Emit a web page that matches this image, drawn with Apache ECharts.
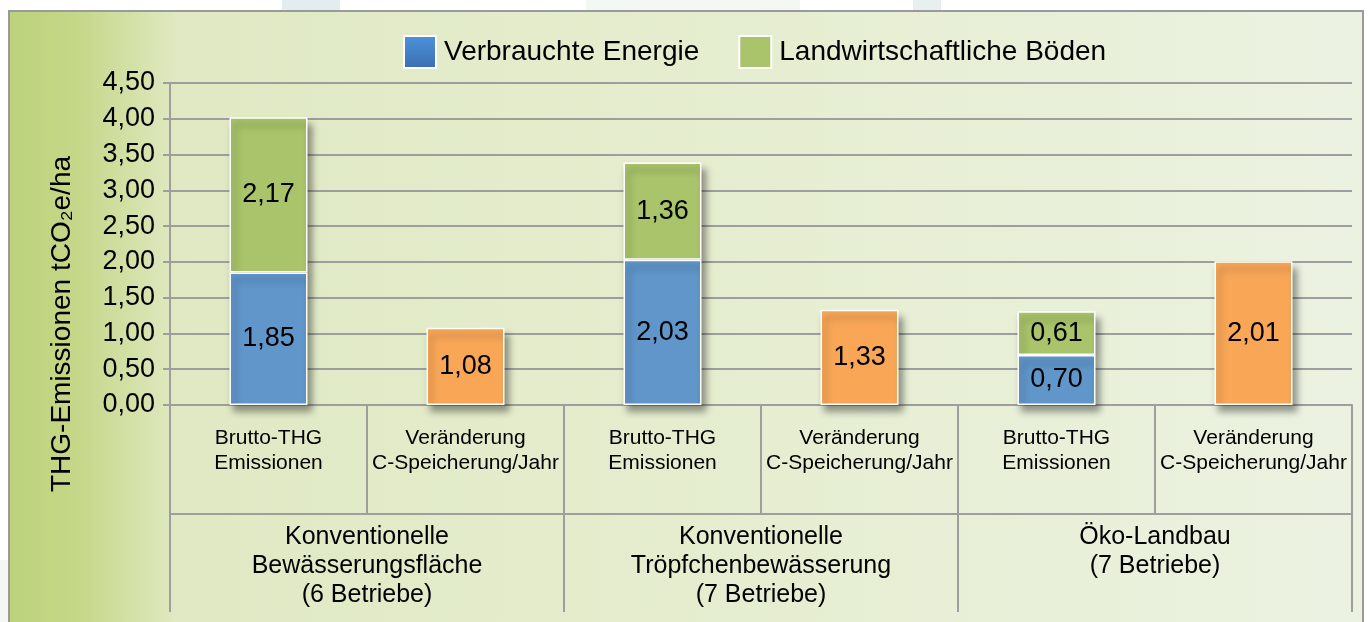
<!DOCTYPE html>
<html>
<head>
<meta charset="utf-8">
<script src="https://cdn.jsdelivr.net/npm/echarts@6/dist/echarts.min.js"></script>
<style>
  html, body { margin: 0; padding: 0; background: #ffffff; }
  #chart { width: 1368px; height: 622px; }
</style>
</head>
<body>
<div id="chart"></div>
<script>
// Kategorien (untere Achse, zwei Ebenen)
const categories = [
  'Brutto-THG\nEmissionen', 'Veränderung\nC-Speicherung/Jahr',
  'Brutto-THG\nEmissionen', 'Veränderung\nC-Speicherung/Jahr',
  'Brutto-THG\nEmissionen', 'Veränderung\nC-Speicherung/Jahr'
];
const groups = [
  'Konventionelle\nBewässerungsfläche\n(6 Betriebe)',
  'Konventionelle\nTröpfchenbewässerung\n(7 Betriebe)',
  'Öko-Landbau\n(7 Betriebe)'
];

// Werte in t CO2e/ha
const verbrauchteEnergie = [1.85, null, 2.03, null, 0.70, null];
const landwBoeden        = [2.17, null, 1.36, null, 0.61, null];
const cSpeicherung       = [null, 1.08, null, 1.33, null, 2.01];

// Werteachse
const yMin = 0, yMax = 4.5, yStep = 0.5;

const FONT = 'Liberation Sans, Arial, Helvetica, sans-serif';
const GRID_COLOR = '#9E9E9E';
const fmt = v => Number(v).toFixed(2).replace('.', ',');

const barShadow = {
  borderColor: '#ffffff',
  borderWidth: 1.5,
  shadowColor: 'rgba(0,0,0,0.4)',
  shadowBlur: 7,
  shadowOffsetX: 4,
  shadowOffsetY: 7
};

const barLabel = {
  show: true,
  position: 'inside',
  color: '#000',
  fontFamily: FONT,
  fontSize: 27,
  formatter: p => fmt(p.value)
};

const chart = echarts.init(document.getElementById('chart'), null, { renderer: 'canvas' });

chart.setOption({
  animation: false,
  backgroundColor: '#ffffff',
  textStyle: { fontFamily: FONT },
  graphic: {
    elements: [
      // helle Flächen am Rand
      { type: 'rect', z: -20, shape: { x: 282, y: 0, width: 58, height: 10 }, style: { fill: '#E3ECEE' } },
      { type: 'rect', z: -20, shape: { x: 586, y: 0, width: 214, height: 10 }, style: { fill: '#F3F8F3' } },
      { type: 'rect', z: -20, shape: { x: 913, y: 0, width: 28, height: 10 }, style: { fill: '#E8EFF0' } },
      { type: 'rect', z: -20, shape: { x: 0, y: 560, width: 8, height: 62 }, style: { fill: '#F4F8F4' } },
      // Diagrammrahmen mit Farbverlauf
      {
        type: 'rect', z: -10,
        shape: { x: 9, y: 11, width: 1354, height: 640 },
        style: {
          fill: new echarts.graphic.LinearGradient(0, 0, 1, 0, [
            { offset: 0, color: '#BCD27A' },
            { offset: 0.05, color: '#C5D788' },
            { offset: 0.1, color: '#D6E3AE' },
            { offset: 0.125, color: '#E0E9C3' },
            { offset: 0.5, color: '#E5EDCF' },
            { offset: 1, color: '#EBF2E1' }
          ]),
          stroke: '#9A9A9A',
          lineWidth: 2
        }
      },
      // Achsentitel
      {
        type: 'text', z: 5,
        x: 62, y: 324,
        rotation: Math.PI / 2,
        style: {
          text: 'THG-Emissionen tCO₂e/ha',
          fill: '#000',
          font: '28px ' + FONT,
          align: 'center',
          verticalAlign: 'middle'
        }
      }
    ]
  },
  legend: {
    left: 398,
    top: 30,
    itemWidth: 32,
    itemHeight: 32,
    itemGap: 39,
    icon: 'rect',
    textStyle: { fontSize: 28, color: '#000', fontFamily: FONT, padding: [0, 0, 0, 3] },
    data: [
      {
        name: 'Verbrauchte Energie',
        itemStyle: {
          color: new echarts.graphic.LinearGradient(0, 0, 0, 1, [
            { offset: 0, color: '#4E93DC' },
            { offset: 1, color: '#3A6FAF' }
          ]),
          borderColor: '#ffffff', borderWidth: 2
        }
      },
      {
        name: 'Landwirtschaftliche Böden',
        itemStyle: { color: '#A9C46A', borderColor: '#ffffff', borderWidth: 2 }
      }
    ]
  },
  grid: { left: 170, right: 16, top: 83, bottom: 217, containLabel: false, outerBoundsMode: 'none' },
  xAxis: [
    {
      type: 'category',
      data: categories,
      position: 'bottom',
      boundaryGap: true,
      axisLine: { show: true, lineStyle: { color: GRID_COLOR, width: 2 } },
      axisTick: { show: true, interval: 0, length: 109, lineStyle: { color: GRID_COLOR, width: 2 } },
      axisLabel: {
        interval: 0,
        margin: 21,
        color: '#000',
        fontFamily: FONT,
        fontSize: 21,
        lineHeight: 25,
        align: 'center'
      },
      splitLine: { show: false }
    },
    {
      type: 'category',
      data: groups,
      position: 'bottom',
      offset: 109,
      boundaryGap: true,
      axisLine: { show: true, lineStyle: { color: GRID_COLOR, width: 2 } },
      axisTick: { show: true, interval: 0, length: 98, lineStyle: { color: GRID_COLOR, width: 2 } },
      axisLabel: {
        interval: 0,
        margin: 9,
        color: '#000',
        fontFamily: FONT,
        fontSize: 25,
        lineHeight: 29,
        align: 'center'
      },
      splitLine: { show: false }
    }
  ],
  yAxis: {
    type: 'value',
    min: yMin,
    max: yMax,
    interval: yStep,
    axisLine: { show: true, lineStyle: { color: GRID_COLOR, width: 2 } },
    axisTick: { show: true, length: 7, lineStyle: { color: GRID_COLOR, width: 2 } },
    axisLabel: {
      margin: 15,
      color: '#000',
      fontFamily: FONT,
      fontSize: 27,
      formatter: v => fmt(v)
    },
    splitLine: { show: true, lineStyle: { color: GRID_COLOR, width: 2 } }
  },
  series: [
    {
      name: 'Verbrauchte Energie',
      type: 'bar',
      stack: 'gesamt',
      barWidth: 78,
      z: 4,
      data: verbrauchteEnergie,
      itemStyle: Object.assign({ color: '#6096CA' }, barShadow),
      label: barLabel
    },
    {
      name: 'Landwirtschaftliche Böden',
      type: 'bar',
      stack: 'gesamt',
      barWidth: 78,
      z: 3,
      data: landwBoeden,
      itemStyle: Object.assign({ color: '#A9C46A' }, barShadow),
      label: barLabel
    },
    {
      name: 'Veränderung C-Speicherung/Jahr',
      type: 'bar',
      stack: 'gesamt',
      barWidth: 78,
      z: 3,
      data: cSpeicherung,
      itemStyle: Object.assign({ color: '#F9A757' }, barShadow),
      label: barLabel
    }
  ]
});
</script>
</body>
</html>
